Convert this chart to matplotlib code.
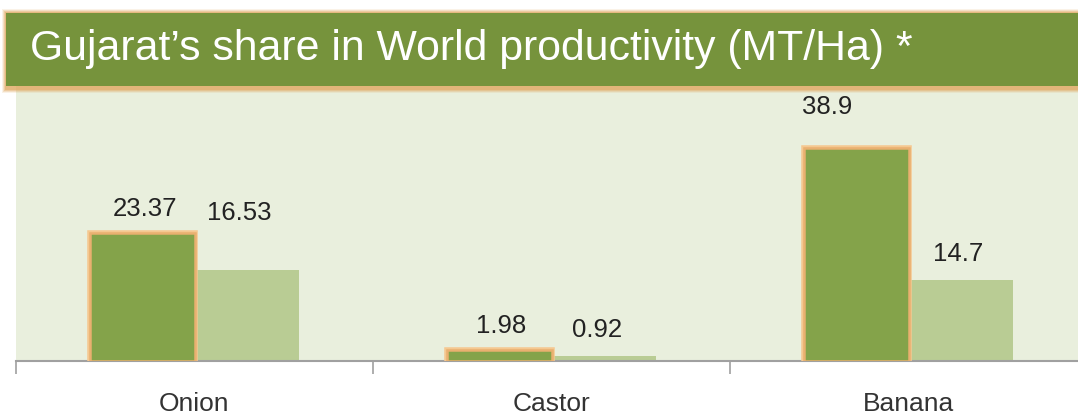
import numpy as np
import matplotlib.pyplot as plt
from matplotlib.patches import Rectangle

plt.rcParams['font.family'] = ['Liberation Sans', 'DejaVu Sans']

crops = ["Onion", "Castor", "Banana"]
gujarat = [23.37, 1.98, 38.9]
world = [16.53, 0.92, 14.7]
title = "Gujarat\u2019s share in World productivity (MT/Ha) *"

# label offsets in pixels (dx, dy) as placed in the original slide
guj_off = [(3, 24), (2, 24), (-29, 41)]
wld_off = [(-7, 57), (-7, 26), (-2, 26)]

W, H = 1078, 418
fig = plt.figure(figsize=(W / 100, H / 100), dpi=100)
fig.patch.set_facecolor('white')

# axes: left at x=16px, baseline at y=361px, top hidden under banner
ax = fig.add_axes([16 / W, (H - 361) / H, 1 - 16 / W, 290 / H])
ax.set_facecolor('#e9efdd')
px_per_unit = 5.48

x = np.arange(len(crops))
bw = 0.292
dark = '#84a34a'
light = '#b9cc94'
b1 = ax.bar(x - bw / 2, gujarat, bw, color=dark, edgecolor='#f5c890', linewidth=4, zorder=3)
ax.bar(x - bw / 2, gujarat, bw, color=dark, edgecolor='#e9b070', linewidth=1.8, zorder=3)
b2 = ax.bar(x + bw / 2, world, bw, color=light, edgecolor='none', zorder=2)

for rect, v, (dx, dy) in zip(b1, gujarat, guj_off):
    ax.annotate(f"{v:g}", (rect.get_x() + rect.get_width() / 2, v),
                xytext=(dx * 0.72, dy * 0.72), textcoords='offset points',
                ha='center', va='center', fontsize=18.5, color='#222222')
for rect, v, (dx, dy) in zip(b2, world, wld_off):
    ax.annotate(f"{v:g}", (rect.get_x() + rect.get_width() / 2, v),
                xytext=(dx * 0.72, dy * 0.72), textcoords='offset points',
                ha='center', va='center', fontsize=18.5, color='#222222')

for s in ['top', 'right', 'left']:
    ax.spines[s].set_visible(False)
ax.spines['bottom'].set_color('#a0a0a0')
ax.spines['bottom'].set_linewidth(1.5)
ax.set_yticks([])
ax.set_xticks(x[:3] - 0.5)
ax.set_xticklabels([])
ax.set_xticks(x, minor=True)
ax.set_xticklabels(crops, minor=True, fontsize=19, color='#333333')
ax.tick_params(axis='x', which='major', length=9, color='#a0a0a0', width=1.2)
ax.tick_params(axis='x', which='minor', length=0, pad=22)

ax.set_ylim(0, 290 / px_per_unit)
ax.set_xlim(-0.5, -0.5 + (W - 16) / 357)

# title banner with soft orange shadow
for i, a in enumerate([0.15, 0.25, 0.35, 0.5]):
    g = 4 - i
    fig.patches.append(Rectangle(((6 - g) / W, (H - 86 - g - 3) / H), 1, (73 + 2 * g + 3) / H,
                                 transform=fig.transFigure, facecolor='#e0a860',
                                 edgecolor='none', alpha=a, zorder=5))
fig.patches.append(Rectangle((6 / W, (H - 86) / H), 1, 73 / H, transform=fig.transFigure,
                             facecolor='#76933c', edgecolor='none', zorder=6))
fig.text(30 / W, (H - 49) / H, title, fontsize=30.8, color='white', va='center', ha='left',
         zorder=7)

fig.savefig('out.png', dpi=100)
